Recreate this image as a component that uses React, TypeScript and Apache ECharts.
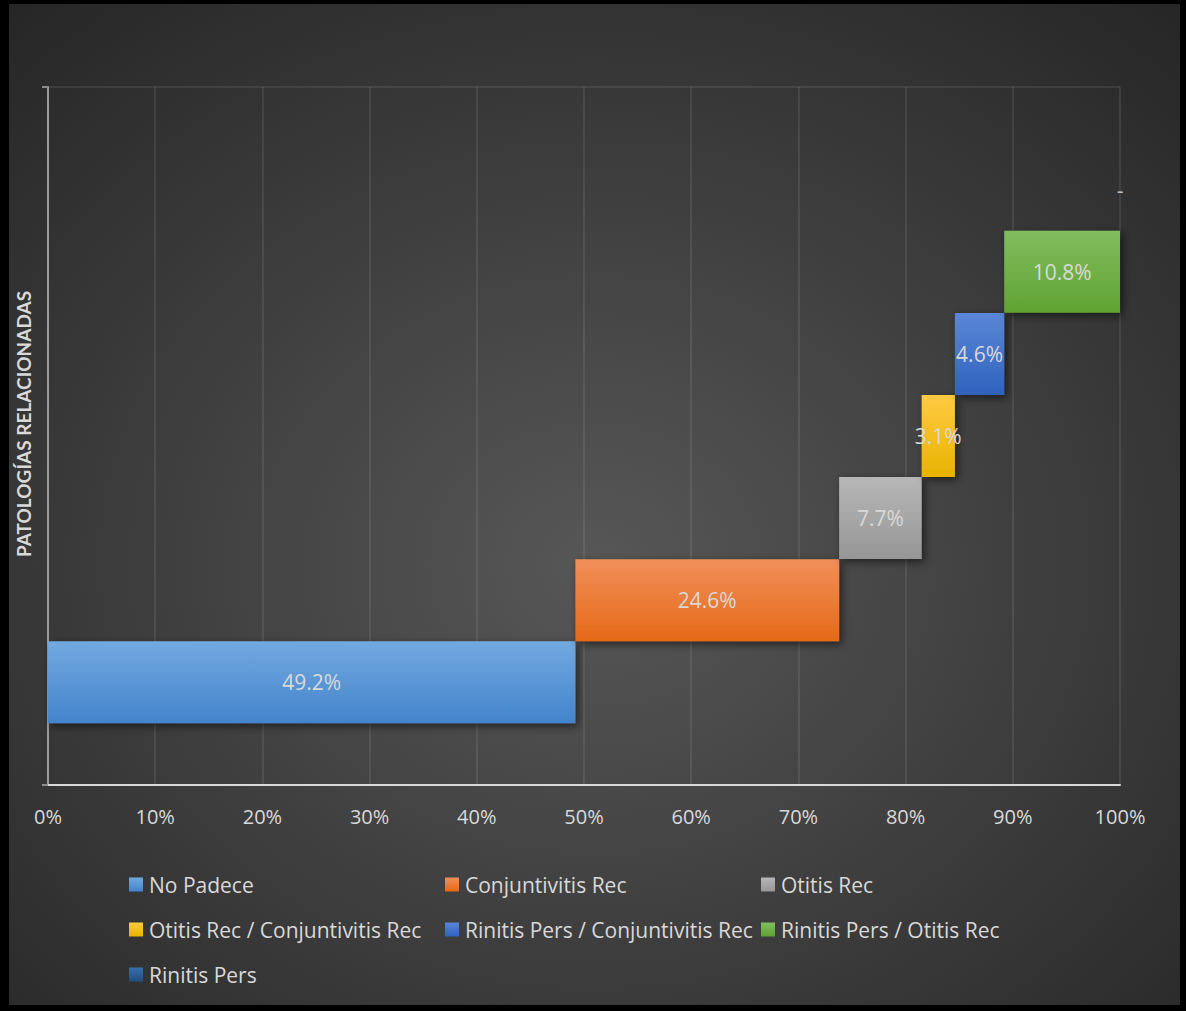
import React, { useEffect, useRef } from "react";
import * as echarts from "echarts";

const categories = [
  "No Padece",
  "Conjuntivitis Rec",
  "Otitis Rec",
  "Otitis Rec / Conjuntivitis Rec",
  "Rinitis Pers / Conjuntivitis Rec",
  "Rinitis Pers / Otitis Rec",
  "Rinitis Pers",
];
const values = [49.2, 24.6, 7.7, 3.1, 4.6, 10.8, 0];
const xTicks = [0, 10, 20, 30, 40, 50, 60, 70, 80, 90, 100];
const colorTops = ["#72a9e0", "#f18f5a", "#b7b7b7", "#ffca42", "#5b87d8", "#81bd5f", "#3a6fae"];
const colorBottoms = ["#4384cb", "#e66917", "#969696", "#e8b300", "#2f62bd", "#60a332", "#1f4e7f"];
const legendColumns = [
  ["No Padece", "Otitis Rec / Conjuntivitis Rec", "Rinitis Pers"],
  ["Conjuntivitis Rec", "Rinitis Pers / Conjuntivitis Rec"],
  ["Otitis Rec", "Rinitis Pers / Otitis Rec"],
];

const SLOTS = 17;
const TEXT = "#d9d9d9";
const FONT = "'Open Sans', 'Noto Sans', sans-serif";

export default function App() {
  const ref = useRef<HTMLDivElement>(null);

  useEffect(() => {
    if (!ref.current) return;
    const chart = echarts.init(ref.current, undefined, { renderer: "svg" });

    const slotNames = Array.from({ length: SLOTS }, (_, i) => "s" + i);
    const offsets: number[] = [];
    let acc = 0;
    values.forEach((v) => {
      offsets.push(Math.round(acc * 10) / 10);
      acc += v;
    });
    const rowOf = (i: number) => 2 + 2 * i;

    const offsetData: any[] = slotNames.map(() => "-");
    categories.forEach((_, i) => {
      offsetData[rowOf(i)] = offsets[i];
    });

    const series: any[] = [
      {
        name: "__offset",
        type: "bar",
        stack: "total",
        barWidth: 82,
        xAxisIndex: 0,
        yAxisIndex: 0,
        data: offsetData,
        itemStyle: { color: "rgba(0,0,0,0)" },
        silent: true,
        label: { show: false },
        emphasis: { disabled: true },
      },
    ];

    categories.forEach((name, i) => {
      const d: any[] = slotNames.map(() => "-");
      d[rowOf(i)] = values[i];
      series.push({
        name,
        type: "bar",
        stack: "total",
        barWidth: 82,
        xAxisIndex: 0,
        yAxisIndex: 0,
        data: d,
        itemStyle: {
          color: {
            type: "linear",
            x: 0,
            y: 0,
            x2: 0,
            y2: 1,
            colorStops: [
              { offset: 0, color: colorTops[i] },
              { offset: 1, color: colorBottoms[i] },
            ],
          },
          shadowBlur: 8,
          shadowOffsetX: 3,
          shadowOffsetY: 3,
          shadowColor: "rgba(0,0,0,0.55)",
        },
        label: {
          show: true,
          position: "inside",
          color: values[i] === 0 ? "#bfbfbf" : TEXT,
          fontFamily: FONT,
          fontSize: 21,
          formatter: (p: any) => (p.value === 0 ? "-" : p.value.toFixed(1) + "%"),
        },
      });
    });

    const legendLefts = [115, 431, 747];
    const legends = legendColumns.map((col, k) => ({
      data: col,
      orient: "vertical",
      left: legendLefts[k],
      top: 863,
      itemWidth: 14,
      itemHeight: 14,
      itemGap: 20,
      icon: "rect",
      selectedMode: false,
      textStyle: { color: TEXT, fontFamily: FONT, fontSize: 21, lineHeight: 25, padding: [0, 0, 0, 1] },
    }));

    chart.setOption({
      animation: false,
      backgroundColor: {
        type: "radial",
        x: 0.5,
        y: 0.56,
        r: 0.78,
        colorStops: [
          { offset: 0, color: "#575757" },
          { offset: 1, color: "#242424" },
        ],
      },
      legend: legends,
      grid: { left: 39, right: 60, top: 83, bottom: 220, containLabel: false, outerBoundsMode: "none" },
      xAxis: {
        type: "value",
        min: xTicks[0],
        max: xTicks[xTicks.length - 1],
        interval: 10,
        axisLine: { show: true, lineStyle: { color: "#d9d9d9", width: 2 } },
        axisTick: { show: false },
        axisLabel: {
          color: TEXT,
          fontFamily: FONT,
          fontSize: 20,
          margin: 21,
          formatter: "{value}%",
        },
        splitLine: { show: true, lineStyle: { color: "rgba(255,255,255,0.11)", width: 1.5 } },
      },
      yAxis: [
        {
          type: "category",
          data: slotNames,
          axisLine: { show: false },
          axisTick: { show: false },
          axisLabel: { show: false },
          splitLine: { show: false },
        },
        {
          type: "value",
          min: 0,
          max: 1,
          interval: 1,
          position: "left",
          name: "PATOLOGÍAS RELACIONADAS",
          nameLocation: "middle",
          nameRotate: 90,
          nameGap: 15,
          nameTextStyle: {
            color: TEXT,
            fontFamily: "Lato, 'Open Sans', sans-serif",
            fontWeight: "bold",
            fontSize: 19,
            padding: [0, 0, 0, 24],
          },
          axisLine: { show: true, lineStyle: { color: "#9c9c9c", width: 2 } },
          axisTick: { show: true, length: 6, lineStyle: { color: "#8c8c8c", width: 2 } },
          axisLabel: { show: false },
          splitLine: { show: true, lineStyle: { color: "rgba(255,255,255,0.11)", width: 1.5 } },
        },
      ],
      series,
    });

    return () => chart.dispose();
  }, []);

  return (
    <div style={{ position: "absolute", left: 0, top: 0, width: 1186, height: 1011, background: "#000" }}>
      <div ref={ref} style={{ position: "absolute", left: 9, top: 4, width: 1171, height: 1001 }} />
    </div>
  );
}
